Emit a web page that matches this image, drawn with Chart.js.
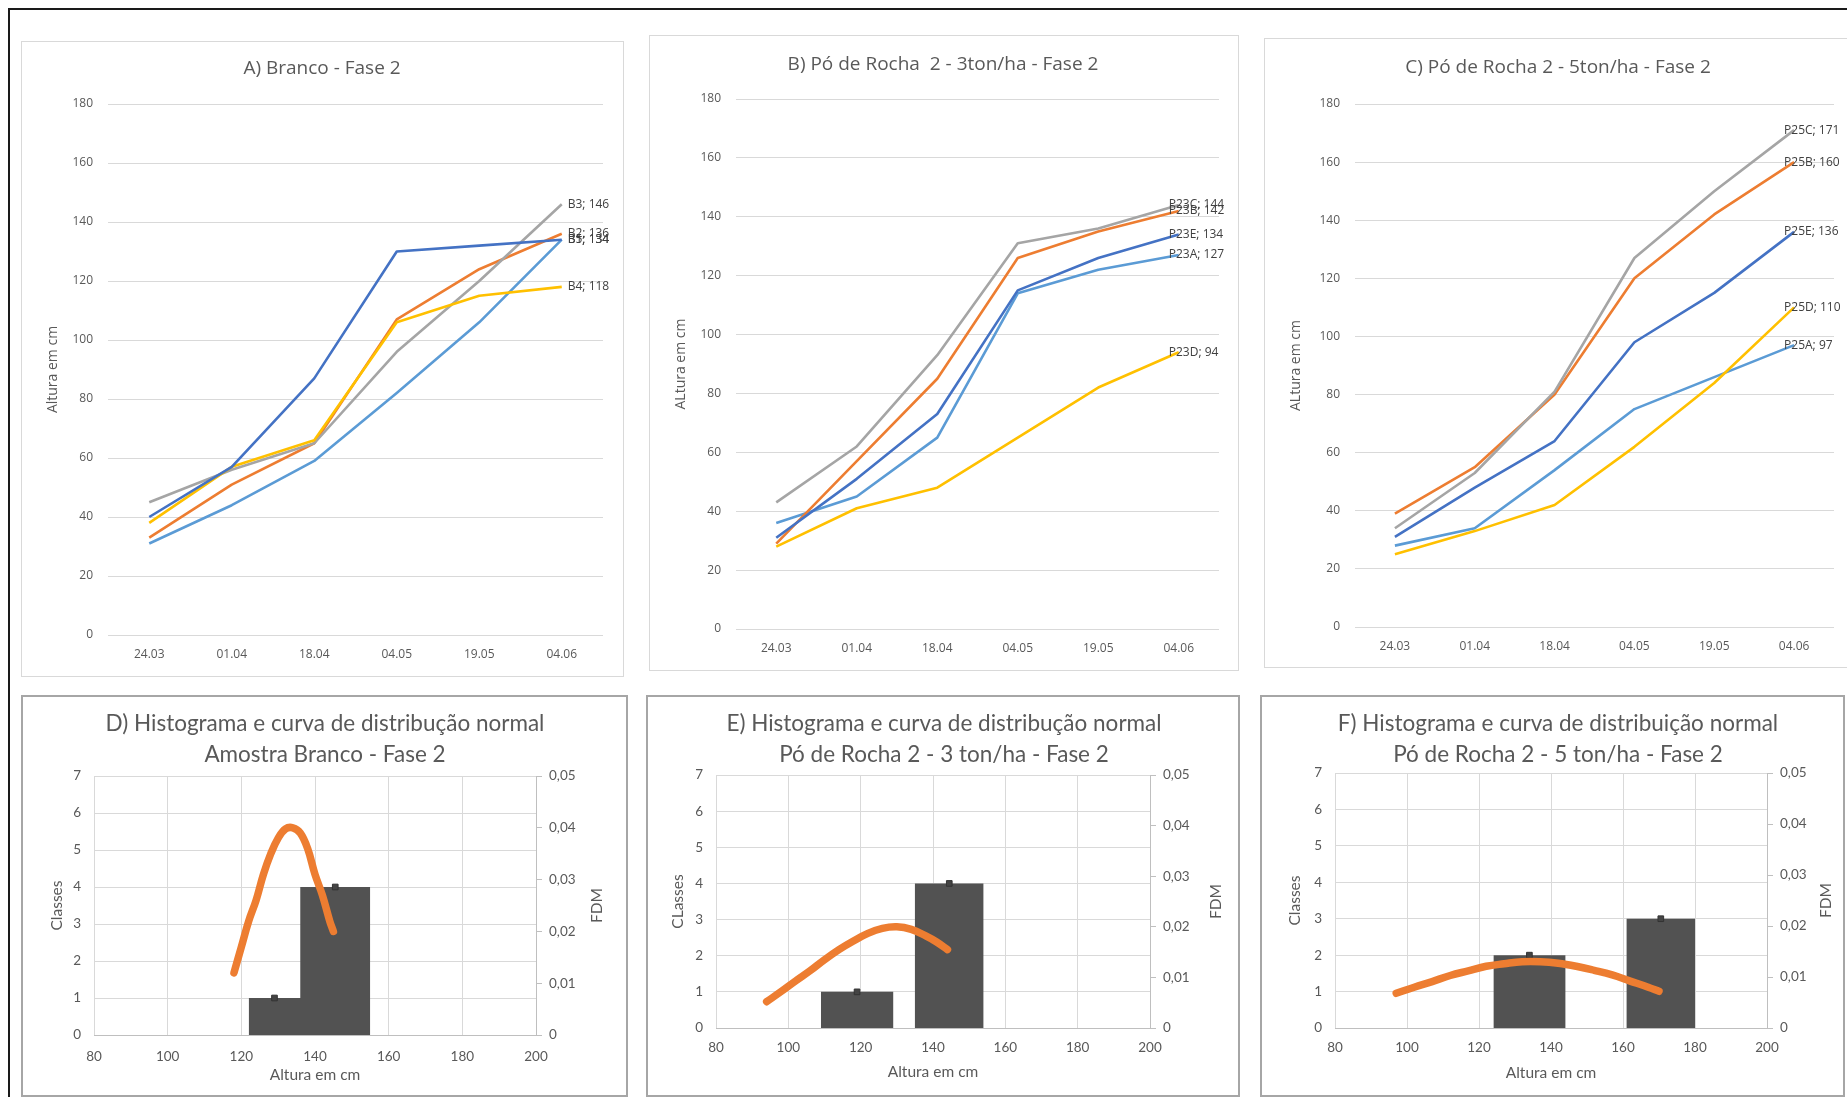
<!DOCTYPE html>
<html>
<head>
<meta charset="utf-8">
<title>Altura das plantas - Fase 2</title>
<script src="https://cdn.jsdelivr.net/npm/chart.js@4.4.1/dist/chart.umd.min.js"></script>
<style>
  html, body { margin: 0; padding: 0; background: #fff; }
  body { width: 1847px; height: 1097px; overflow: hidden; position: relative; }
  #frame { position: absolute; left: 8px; top: 8px; width: 1900px; height: 1200px;
           border-top: 2px solid #1a1a1a; border-left: 2px solid #1a1a1a; }
  .panel { position: absolute; box-sizing: border-box; background: #fff; }
  .panel.line { border: 1px solid #d9d9d9; }
  .panel.hist { border: 2px solid #a6a6a6; }
  canvas { position: absolute; }
</style>
</head>
<body>
<div id="frame"></div>
<script>
// ---- data ----
const dates = ['24.03', '01.04', '18.04', '04.05', '19.05', '04.06'];

// A) Branco
const namesA = ['B1', 'B2', 'B3', 'B4', 'B5'];
const b1 = [31, 44, 59, 82, 106, 134];
const b2 = [33, 51, 65, 107, 124, 136];
const b3 = [45, 56, 65, 96, 120, 146];
const b4 = [38, 57, 66, 106, 115, 118];
const b5 = [40, 57, 87, 130, 132, 134];

// B) Po de Rocha 2 - 3 ton/ha
const namesB = ['P23A', 'P23B', 'P23C', 'P23D', 'P23E'];
const p23a = [36, 45, 65, 114, 122, 127];
const p23b = [29, 57, 85, 126, 135, 142];
const p23c = [43, 62, 93, 131, 136, 144];
const p23d = [28, 41, 48, 65, 82, 94];
const p23e = [31, 51, 73, 115, 126, 134];

// C) Po de Rocha 2 - 5 ton/ha
const namesC = ['P25A', 'P25B', 'P25C', 'P25D', 'P25E'];
const p25a = [28, 34, 54, 75, 86, 97];
const p25b = [39, 55, 80, 120, 142, 160];
const p25c = [34, 53, 81, 127, 150, 171];
const p25d = [25, 33, 42, 62, 84, 110];
const p25e = [31, 48, 64, 98, 115, 136];

// histograms: bins (cm) and counts
const binStartD = [122, 136], binEndD = [136, 155], countD = [1, 4];
const binStartE = [109, 135], binEndE = [129, 154], countE = [1, 4];
const binStartF = [124, 161], binEndF = [144, 180], countF = [2, 3];

// normal curves (FDM)
const curveXD = [118, 120, 122, 124, 126, 128, 130, 132, 134, 136, 138, 140, 142, 144, 145];
const curveYD = [0.012, 0.017, 0.022, 0.026, 0.031, 0.035, 0.038, 0.0398, 0.040, 0.039, 0.036, 0.031, 0.027, 0.022, 0.020];
const curveXE = [94, 98, 102, 106, 110, 114, 118, 122, 126, 130, 134, 138, 141, 144];
const curveYE = [0.0052, 0.0072, 0.0093, 0.0113, 0.0135, 0.0155, 0.0172, 0.0187, 0.0197, 0.0200, 0.0195, 0.0182, 0.0170, 0.0155];
const curveXF = [97, 102, 107, 112, 117, 122, 127, 132, 137, 142, 147, 152, 157, 162, 167, 170];
const curveYF = [0.0068, 0.0080, 0.0091, 0.0103, 0.0112, 0.0121, 0.0126, 0.0130, 0.0130, 0.0127, 0.0121, 0.0113, 0.0104, 0.0092, 0.0080, 0.0072];

// ---- styling / layout ----
const lineColors = ['#5B9BD5', '#ED7D31', '#A5A5A5', '#FFC000', '#4472C4'];
const TXT = '#595959';
const GRID = '#d9d9d9';
const FONT_LINE = '"Open Sans", "DejaVu Sans", sans-serif';
const FONT_HIST = 'Lato, "Open Sans", sans-serif';

const LAYOUT = {
  A: { box: {x: 21, y: 41, w: 603, h: 636}, area: {l: 108, t: 104, r: 603, b: 635}, titleX: 322, titleY: 69, yTitleX: 53, xLabelY: 655 },
  B: { box: {x: 649, y: 35, w: 590, h: 636}, area: {l: 736, t: 99, r: 1219, b: 629}, titleX: 943, titleY: 65, yTitleX: 681, xLabelY: 649 },
  C: { box: {x: 1264, y: 38, w: 600, h: 630}, area: {l: 1355, t: 104, r: 1834, b: 627}, titleX: 1558, titleY: 68, yTitleX: 1296, xLabelY: 647 },
  D: { box: {x: 21, y: 695, w: 607, h: 402}, area: {l: 94, t: 776, r: 536, b: 1035}, titleX: 325, titleY: 724, yTitleX: 57, y2TitleX: 597, xLabelY: 1057, xTitleY: 1075 },
  E: { box: {x: 646, y: 695, w: 594, h: 402}, area: {l: 716, t: 775, r: 1150, b: 1028}, titleX: 944, titleY: 724, yTitleX: 678, y2TitleX: 1216, xLabelY: 1048, xTitleY: 1072 },
  F: { box: {x: 1260, y: 695, w: 585, h: 402}, area: {l: 1335, t: 773, r: 1767, b: 1028}, titleX: 1558, titleY: 724, yTitleX: 1295, y2TitleX: 1826, xLabelY: 1048, xTitleY: 1073 }
};

// labels "name; value" at the last point of each line
const endLabels = {
  id: 'endLabels',
  afterDatasetsDraw(chart, args, opts) {
    if (!opts || !opts.display) return;
    const ctx = chart.ctx;
    ctx.save();
    ctx.font = '12px ' + FONT_LINE;
    ctx.fillStyle = '#404040';
    ctx.textBaseline = 'middle';
    chart.data.datasets.forEach((ds, i) => {
      const meta = chart.getDatasetMeta(i);
      const pt = meta.data[meta.data.length - 1];
      ctx.fillText(ds.label + '; ' + ds.data[ds.data.length - 1], pt.x + opts.dx, pt.y);
    });
    ctx.restore();
  }
};

// right axis title read bottom-to-top (like Excel)
const sideTitle = {
  id: 'sideTitle',
  afterDraw(chart, args, opts) {
    if (!opts || !opts.text) return;
    const ctx = chart.ctx, a = chart.chartArea;
    ctx.save();
    ctx.translate(opts.x, (a.top + a.bottom) / 2);
    ctx.rotate(-Math.PI / 2);
    ctx.font = '15.5px ' + FONT_HIST;
    ctx.fillStyle = TXT;
    ctx.textAlign = 'center';
    ctx.textBaseline = 'middle';
    ctx.fillText(opts.text, 0, 0);
    ctx.restore();
  }
};
Chart.register(endLabels, sideTitle);

function place(id, box, cls) {
  const div = document.createElement('div');
  div.className = 'panel ' + cls;
  Object.assign(div.style, {left: box.x + 'px', top: box.y + 'px', width: box.w + 'px', height: box.h + 'px'});
  document.body.appendChild(div);
  const cv = document.createElement('canvas');
  cv.id = id;
  cv.width = box.w;
  cv.height = box.h;
  Object.assign(cv.style, {left: box.x + 'px', top: box.y + 'px', width: box.w + 'px', height: box.h + 'px'});
  document.body.appendChild(cv);
  return cv.getContext('2d');
}

function lineChart(id, L, title, yTitle, names, series, labelDx) {
  const ctx = place(id, L.box, 'line');
  const W = L.box.w, H = L.box.h;
  const cl = L.area.l - L.box.x, cr = L.area.r - L.box.x;
  const ct = L.area.t - L.box.y, cb = L.area.b - L.box.y;
  const padL = 2 * (L.titleX - L.box.x) - cr;
  const tSize = 19, tLh = tSize * 1.2;
  const tTop = L.titleY - L.box.y - tLh / 2;
  const tickSize = 12, ytSize = 14;

  new Chart(ctx, {
    type: 'line',
    data: {
      labels: dates,
      datasets: series.map((s, i) => ({
        label: names[i],
        data: s,
        borderColor: lineColors[i],
        backgroundColor: lineColors[i],
        borderWidth: 2.6,
        borderJoinStyle: 'round',
        pointRadius: 0,
        tension: 0,
        order: -i
      }))
    },
    options: {
      responsive: false,
      animation: false,
      layout: { padding: { left: padL, right: W - cr, top: 0, bottom: 0 } },
      plugins: {
        legend: { display: false },
        tooltip: { enabled: false },
        title: {
          display: true,
          text: title,
          color: TXT,
          font: { family: FONT_LINE, size: tSize, weight: 'normal', lineHeight: 1.2 },
          padding: { top: tTop, bottom: ct - tTop - tLh }
        },
        endLabels: { display: true, dx: labelDx }
      },
      scales: {
        x: {
          offset: true,
          grid: { display: false, drawTicks: false },
          border: { display: false },
          ticks: {
            color: TXT,
            maxRotation: 0,
            font: { family: FONT_LINE, size: tickSize },
            padding: L.xLabelY - L.area.b - tickSize * 0.6
          },
          afterFit: s => { s.height = H - cb; }
        },
        y: {
          min: 0,
          max: 180,
          ticks: { stepSize: 20, padding: 15, color: TXT, font: { family: FONT_LINE, size: tickSize } },
          grid: { color: GRID, drawTicks: false },
          border: { display: false },
          title: {
            display: true,
            text: yTitle,
            color: TXT,
            font: { family: FONT_LINE, size: ytSize },
            padding: { top: L.yTitleX - L.box.x - padL - ytSize * 0.6, bottom: 0 }
          },
          afterFit: s => { s.width = cl - padL; }
        }
      }
    }
  });
}

function histChart(id, L, title, yTitle, binStart, binEnd, counts, cx, cy) {
  const ctx = place(id, L.box, 'hist');
  const W = L.box.w, H = L.box.h;
  const cl = L.area.l - L.box.x, cr = L.area.r - L.box.x;
  const ct = L.area.t - L.box.y, cb = L.area.b - L.box.y;
  const padL = 2 * (L.titleX - L.box.x) - W;
  const tSize = 22.5, tLh = 31;
  const tTop = L.titleY - L.box.y - tLh / 2;
  const tickSize = 13.5, axSize = 15.5;

  // outline of the histogram bars as a stepped area
  const steps = [];
  binStart.forEach((s, i) => {
    steps.push({ x: s, y: counts[i] });
    if (i === binStart.length - 1 || binStart[i + 1] !== binEnd[i]) steps.push({ x: binEnd[i], y: 0 });
  });
  // small error-bar marks on top of each bar
  const tops = binStart.map((s, i) => ({ x: (s + binEnd[i]) / 2, y: counts[i] }));

  new Chart(ctx, {
    type: 'line',
    data: {
      datasets: [
        {
          label: 'FDM',
          data: cx.map((x, i) => ({ x: x, y: cy[i] })),
          yAxisID: 'y1',
          borderColor: '#ED7D31',
          borderWidth: 7.5,
          borderCapStyle: 'round',
          borderJoinStyle: 'round',
          pointRadius: 0,
          tension: 0.4
        },
        {
          label: 'marks',
          data: tops,
          yAxisID: 'y',
          showLine: false,
          pointStyle: 'rect',
          pointRadius: 4,
          pointBorderWidth: 1,
          pointBorderColor: '#333333',
          pointBackgroundColor: '#444444'
        },
        {
          label: 'Classes',
          data: steps,
          yAxisID: 'y',
          stepped: true,
          fill: 'origin',
          backgroundColor: '#525252',
          borderColor: '#525252',
          borderWidth: 0,
          pointRadius: 0
        }
      ]
    },
    options: {
      responsive: false,
      animation: false,
      layout: { padding: { left: padL, right: 0, top: 0, bottom: 0 } },
      plugins: {
        legend: { display: false },
        tooltip: { enabled: false },
        title: {
          display: true,
          text: title,
          color: TXT,
          font: { family: FONT_HIST, size: tSize, weight: 'normal', lineHeight: tLh / tSize },
          padding: { top: tTop, bottom: ct - tTop - 2 * tLh }
        },
        sideTitle: { text: 'FDM', x: L.y2TitleX - L.box.x }
      },
      scales: {
        x: {
          type: 'linear',
          min: 80,
          max: 200,
          grid: { color: GRID, drawTicks: false },
          border: { display: true, color: '#bfbfbf' },
          ticks: {
            stepSize: 20,
            color: TXT,
            maxRotation: 0,
            font: { family: FONT_HIST, size: tickSize },
            padding: L.xLabelY - L.area.b - tickSize * 0.6
          },
          title: {
            display: true,
            text: 'Altura em cm',
            color: TXT,
            font: { family: FONT_HIST, size: axSize },
            padding: { top: 0, bottom: L.box.y + H - L.xTitleY - axSize * 0.6 }
          },
          afterFit: s => { s.height = H - cb; }
        },
        y: {
          position: 'left',
          min: 0,
          max: 7,
          ticks: { stepSize: 1, padding: 13, color: TXT, font: { family: FONT_HIST, size: tickSize } },
          grid: { color: GRID, drawTicks: false },
          border: { display: false },
          title: {
            display: true,
            text: yTitle,
            color: TXT,
            font: { family: FONT_HIST, size: axSize },
            padding: { top: L.yTitleX - L.box.x - padL - axSize * 0.6, bottom: 0 }
          },
          afterFit: s => { s.width = cl - padL; }
        },
        y1: {
          position: 'right',
          min: 0,
          max: 0.05,
          ticks: {
            stepSize: 0.01,
            padding: 7,
            color: TXT,
            font: { family: FONT_HIST, size: tickSize },
            callback: v => v === 0 ? '0' : v.toFixed(2).replace('.', ',')
          },
          grid: { drawOnChartArea: false, color: '#bfbfbf', tickLength: 6 },
          border: { display: true, color: '#bfbfbf' },
          afterFit: s => { s.width = W - cr; }
        }
      }
    }
  });
}

lineChart('chartA', LAYOUT.A, 'A) Branco - Fase 2', 'Altura em cm', namesA, [b1, b2, b3, b4, b5], 6);
lineChart('chartB', LAYOUT.B, 'B) Pó de Rocha  2 - 3ton/ha - Fase 2', 'ALtura em cm', namesB, [p23a, p23b, p23c, p23d, p23e], -10);
lineChart('chartC', LAYOUT.C, 'C) Pó de Rocha 2 - 5ton/ha - Fase 2', 'ALtura em cm', namesC, [p25a, p25b, p25c, p25d, p25e], -10);

histChart('chartD', LAYOUT.D, ['D) Histograma e curva de distribução normal', 'Amostra Branco - Fase 2'], 'Classes',
  binStartD, binEndD, countD, curveXD, curveYD);
histChart('chartE', LAYOUT.E, ['E) Histograma e curva de distribução normal', 'Pó de Rocha 2 - 3 ton/ha - Fase 2'], 'CLasses',
  binStartE, binEndE, countE, curveXE, curveYE);
histChart('chartF', LAYOUT.F, ['F) Histograma e curva de distribuição normal', 'Pó de Rocha 2 - 5 ton/ha - Fase 2'], 'Classes',
  binStartF, binEndF, countF, curveXF, curveYF);
</script>
</body>
</html>
